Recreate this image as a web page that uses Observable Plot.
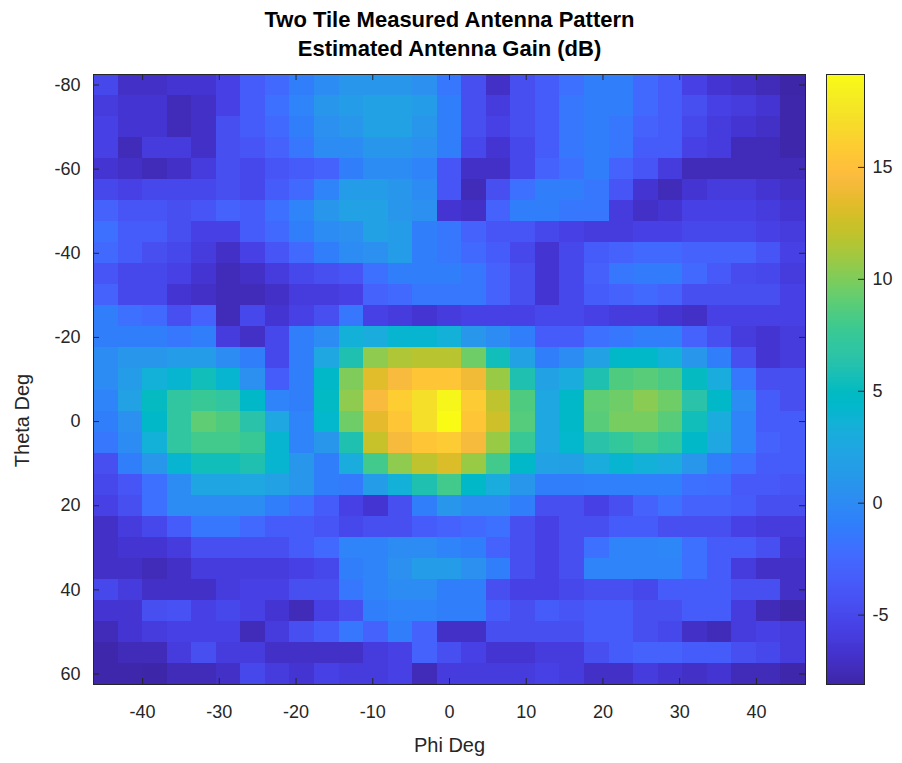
<!DOCTYPE html>
<html><head><meta charset="utf-8">
<script src="https://cdn.jsdelivr.net/npm/d3@7"></script>
<script src="https://cdn.jsdelivr.net/npm/@observablehq/plot@0.6"></script>
<style>
body{margin:0;background:#fff;}
#chart{position:relative;width:902px;height:763px;}
#chart svg{position:absolute;left:0;top:0;}
</style></head><body><div id="chart"></div>
<script>
// ---- data ----
const phi = [-44.8, -41.6, -38.4, -35.2, -32, -28.8, -25.6, -22.4, -19.2, -16, -12.8, -9.6, -6.4, -3.2, 0, 3.2, 6.4, 9.6, 12.8, 16, 19.2, 22.4, 25.6, 28.8, 32, 35.2, 38.4, 41.6, 44.8];
const theta = [-80, -75, -70, -65, -60, -55, -50, -45, -40, -35, -30, -25, -20, -15, -10, -5, 0, 5, 10, 15, 20, 25, 30, 35, 40, 45, 50, 55, 60];
const gain = [
  [-5, -7, -7, -6.5, -6.5, -5.5, -3.5, -2.5, -1, 0,   1, 1, 1, 0.5, -1.5, -4.5, -7, -4.5, -3.5, -2,   -1, -1, -2.5, -3.5, -5.5, -6.5, -7, -7.5, -8.1],
  [-6, -6.5, -6.5, -7.5, -7, -5.5, -3.5, -2, -0.5, 1,   1.5, 2, 2, 1.5, -1, -4.5, -6, -4.5, -3.5, -1.5,   -1, -1, -2.5, -3.5, -4.5, -5.5, -6, -6.5, -8],
  [-5.5, -6.5, -6.5, -7.5, -7, -4.5, -3.5, -2.5, -1, 0.5,   1, 2, 2, 1, -1, -4.5, -5.5, -4.5, -3.5, -1.5,   -1, -1.5, -3, -3.5, -5, -6, -6.5, -7, -8],
  [-5.5, -7.5, -6, -6, -7, -4.5, -4, -3, -1.5, 0,   0, 1, 1, 0.5, -1, -5, -6.5, -5, -3.5, -1.5,   -1, -1.5, -3.5, -3.5, -5.5, -6, -7.5, -7.5, -8],
  [-6.5, -7, -7.5, -7, -6, -4.5, -5, -4, -3.5, -3,   -1, 0, 0, -0.5, -4, -7, -7, -5, -3, -2,   -1, -3, -4, -6, -7.5, -7.5, -7.5, -7.5, -7.5],
  [-5, -5.5, -5, -5, -5, -4.5, -5, -3.5, -2.5, -0.5,   1.5, 1.5, 1, 0, -4, -7.5, -4.5, -2, -1, -1,   -1.5, -4, -6.5, -7.5, -6.5, -6, -6, -6.5, -7],
  [-3, -4, -4, -4.5, -4, -3, -3.5, -2, -0.5, 1,   2, 2, 1, 0.5, -6.5, -7, -3, -1, -1, -1.5,   -1.5, -6, -7, -6.5, -5.5, -5.5, -5.5, -6, -6.5],
  [-2, -3.5, -3.5, -4.5, -5.5, -5.5, -3.5, -2.5, -1, 0,   0.5, 2, 1.5, -1, -1.5, -3, -4, -4, -5, -5.5,   -6, -6, -5.5, -5.5, -5, -5, -5, -5.5, -6],
  [-2.5, -3.5, -4.5, -5, -6, -7, -5.5, -4, -2.5, -1,   0, 0.5, 1.5, -1, -1.5, -2.5, -3.5, -5, -6.5, -5,   -3.5, -3, -2.5, -2.5, -3, -3, -3, -4, -5.5],
  [-4, -5, -5, -5.5, -6.5, -7.5, -7, -6, -5, -4.5,   -4, -2, -1, -1, -1, -1.5, -3, -4.5, -6.5, -5,   -3.2, -1.5, -1.2, -1.2, -2.5, -3.7, -4.7, -5, -6],
  [-3, -5, -5, -6.5, -7, -7.5, -7.5, -7, -6, -6,   -5.5, -3, -2.5, -1.5, -1.5, -1.5, -3, -4.5, -6.5, -5,   -3.5, -3, -2.5, -3, -4.5, -4.5, -4.5, -4.5, -5.5],
  [-1, -2, -2.5, -4.5, -3, -7.5, -5, -6.5, -5.5, -4.5,   -1.5, -5.5, -6, -6.5, -6, -5.5, -5.5, -5.5, -5, -5,   -5.5, -6, -6, -6.5, -7, -5.5, -5.5, -5.5, -5.5],
  [-1, -1, -1, -1.5, -1, -6, -7, -5, -1, 0,   3.5, 3, 4, 4, 3.5, 1, 0, -1, -3.5, -3.5,   -2, -1.5, -1, -1, -3, -4.5, -6, -6.5, -6],
  [0, 1, 1, 1.5, 1.5, 0, -1, -5, -1, 2.5,   6, 10.5, 11.5, 11.8, 11.8, 9.5, 5.5, 2, -1, 0,   2, 4.5, 4.5, 3.5, 1, -1, -4.5, -6.5, -6],
  [0, 1.5, 3.5, 4, 5.5, 4, 0.5, -3.5, -1, 4.5,   10, 13.3, 14.5, 15.5, 15.5, 14, 10.8, 6, 2, 3,   6, 8.5, 8.8, 8.3, 5, 3, -1.5, -4.5, -4.5],
  [-0.5, 2, 5, 7, 7.5, 7, 4.5, -0.5, -1, 4.8,   10.5, 14.5, 16, 17.2, 18.8, 15.8, 12, 8.5, 2.5, 4.5,   9, 9.5, 10.3, 9.5, 6.5, 4.5, 0, -3.5, -4.5],
  [-1, 0.5, 4.5, 7, 9, 8.5, 6.5, 2.5, -0.5, 4.3,   9.5, 13.5, 15.5, 17.2, 19.15, 15.5, 12.5, 8.7, 2.5, 4.5,   8.8, 9.8, 9.8, 8.8, 5.5, 3, -0.5, -3.5, -3.5],
  [-1.5, 0, 3.5, 7, 8, 8, 7.5, 4, -0.5, 1,   6, 12.3, 14.3, 15.5, 15.8, 14.3, 10.8, 7.5, 2.5, 4.3,   6.5, 7.2, 8, 7.2, 4.5, 2.5, -0.5, -3, -3.5],
  [-4.5, -1, 1, 4, 5.5, 5.5, 6, 4, 1, -1,   3, 8, 10.5, 12, 13, 10.8, 8, 4.5, 2, 1.8,   3, 4, 3.5, 3, 1, -1, -2, -3.5, -3.5],
  [-5, -4, -2, 0, 2.3, 2.3, 2.5, 2, 1, -1,   -1.3, 1.5, 3.5, 6, 8, 4.5, 3, 1, -1, -1,   -0.8, -0.8, -0.8, -0.8, -2, -2.2, -3.7, -3.7, -4],
  [-5.5, -4.5, -2, 0, 0, 0, 0, -1, -2, -3.5,   -5.5, -6.5, -4.5, -1, 1, 0, 0, -1, -4.5, -4.5,   -5.5, -4.5, -3, -2, -3, -3, -3.5, -4.5, -4.5],
  [-7, -6, -5, -3.5, -1.5, -1.5, -2.5, -3.5, -3.5, -4,   -5, -4.5, -4.5, -3.5, -3, -2.5, -2, -4.5, -5.5, -4.5,   -4.5, -3.5, -3.5, -4.5, -4.5, -4.5, -5.5, -6, -6],
  [-7, -6.5, -6.5, -6, -4.5, -4.5, -4.5, -4.5, -3.5, -2.5,   -0.5, -0.5, 0, 0, -0.5, -1, -3, -4.5, -5.5, -4.5,   -2, -0.5, -0.5, -0.3, -2, -3.5, -3.5, -4.5, -6.5],
  [-7, -7, -7.5, -7, -6, -6, -6, -6, -5.5, -5,   -1, -0.5, 0.5, 1.5, 1.5, 0.5, -1, -4.5, -5.5, -4.5,   -0.5, -0.5, -0.5, -0.5, -2, -3.5, -6, -7, -7],
  [-5, -6, -7, -7, -7, -6, -5.5, -5.5, -4.5, -4.5,   -1.5, -0.5, 0, 0, -1, -1, -4.5, -5.5, -5.5, -5,   -4.5, -4.5, -5, -3.5, -3.5, -3.5, -4.5, -4.5, -7],
  [-6.5, -6.5, -4.5, -4.3, -5.5, -5, -5.5, -6.5, -7.5, -5.5,   -4.5, -1, -0.5, -0.5, -1, -1, -3.5, -4.5, -3.5, -4,   -3.5, -3.5, -4.5, -4.5, -3.5, -3.5, -6, -7.5, -8],
  [-7.5, -6.5, -6, -5.5, -5.5, -5.5, -7.5, -6, -4.5, -3.5,   -1.5, -3, -1, -3, -7, -7, -4.5, -4.5, -4.5, -4.5,   -3.5, -3.5, -4.5, -5, -7, -7.5, -6, -5.5, -6],
  [-8, -7.5, -7.5, -6, -4.5, -6, -6, -7, -7, -7,   -7, -6, -5.5, -3, -4.5, -5.5, -6.5, -6.5, -6, -6,   -4.5, -3.5, -3, -3, -3.5, -3.5, -4.5, -5, -6],
  [-8, -8, -8.1, -7.5, -7.5, -7, -5, -6, -6.5, -5.5,   -6, -6, -5.5, -7.5, -6, -6, -6, -6, -5.5, -6,   -7, -7, -6, -6.5, -7, -6.5, -7.5, -7.5, -8]
];
const xTicks = [-40, -30, -20, -10, 0, 10, 20, 30, 40];
const yTicks = [-80, -60, -40, -20, 0, 20, 40, 60];
const cbTicks = [-5, 0, 5, 10, 15];
const gainDomain = [-8.1, 19.15];
const titleLines = ["Two Tile Measured Antenna Pattern", "Estimated Antenna Gain (dB)"];
const xLabel = "Phi Deg";
const yLabel = "Theta Deg";
const parula = ["#3e26a8","#402ab4","#422ec0","#4332cb","#4537d5","#463cde","#4741e5","#4747eb","#484df0","#4852f4","#4758f8","#465efb","#4563fd","#4269fe","#3e6fff","#3875fe","#327cfc","#2f81fa","#2e87f7","#2d8cf3","#2b91ef","#2796eb","#259be8","#23a0e5","#20a5e3","#1ca9df","#18addb","#12b1d6","#08b5d0","#01b8ca","#02bac3","#0bbdbd","#19bfb6","#24c1ae","#2cc4a7","#31c69f","#37c897","#3fca8e","#4acb84","#57cc7a","#64cd6f","#72cd64","#81cc59","#8fcb4e","#9dc943","#abc739","#b9c431","#c5c22a","#d1bf27","#dcbd29","#e6bb2d","#f0ba36","#f8ba3d","#febe3c","#fec338","#fec934","#fccf30","#fad62d","#f7dc2a","#f5e327","#f5e924","#f6ef20","#f7f51b","#f9fb15"];

// ---- layout ----
const W = 902, H = 763;
const mL = 93, mR = 97, mT = 74, mB = 79;
const frameW = W - mL - mR, frameH = H - mT - mB;
const tickLen = 6;
const ink = "#262626";
const font = "'Liberation Sans', Arial, Helvetica, sans-serif";
const phiStep = phi[1] - phi[0], thetaStep = theta[1] - theta[0];
const fmt = d => String(d);

const cells = [];
theta.forEach((t, i) => phi.forEach((p, j) => cells.push({phi: p, theta: t, g: gain[i][j]})));

const colorOpts = {type: "linear", domain: gainDomain, interpolate: d3.piecewise(d3.interpolateRgb, parula)};

const main = Plot.plot({
  width: W, height: H,
  marginLeft: mL, marginRight: mR, marginTop: mT, marginBottom: mB,
  style: {fontFamily: font, fontSize: "18px", color: ink, background: "transparent", overflow: "visible"},
  x: {domain: [phi[0] - phiStep / 2, phi[phi.length - 1] + phiStep / 2], ticks: xTicks, tickFormat: fmt, tickSize: 0, tickPadding: 21, label: null},
  y: {domain: [theta[0] - thetaStep / 2, theta[theta.length - 1] + thetaStep / 2], reverse: true, ticks: yTicks, tickFormat: fmt, tickSize: 0, tickPadding: 13, label: null},
  color: colorOpts,
  marks: [
    Plot.rect(cells, {
      x1: d => d.phi - phiStep / 2, x2: d => d.phi + phiStep / 2,
      y1: d => d.theta - thetaStep / 2, y2: d => d.theta + thetaStep / 2,
      fill: "g", shapeRendering: "crispEdges"
    }),
    Plot.tickX(xTicks, {x: d => d, insetTop: frameH - tickLen, stroke: ink}),
    Plot.tickX(xTicks, {x: d => d, insetBottom: frameH - tickLen, stroke: ink}),
    Plot.tickY(yTicks, {y: d => d, insetRight: frameW - tickLen, stroke: ink}),
    Plot.tickY(yTicks, {y: d => d, insetLeft: frameW - tickLen, stroke: ink}),
    Plot.frame({stroke: ink}),
    Plot.text([xLabel], {frameAnchor: "bottom", lineAnchor: "middle", dy: 61, fontSize: 20, fill: ink}),
    Plot.text([yLabel], {frameAnchor: "left", textAnchor: "middle", lineAnchor: "middle", dx: -71, dy: 41, rotate: -90, fontSize: 20, fill: ink}),
    Plot.text([titleLines[0]], {frameAnchor: "top", lineAnchor: "middle", dy: -55, fontSize: 22, fontWeight: "bold", fill: "#000"}),
    Plot.text([titleLines[1]], {frameAnchor: "top", lineAnchor: "middle", dy: -26, fontSize: 22, fontWeight: "bold", fill: "#000"})
  ]
});

// colorbar
const nb = 300;
const bands = d3.range(nb).map(i => {
  const a = gainDomain[0] + (gainDomain[1] - gainDomain[0]) * i / nb;
  const b = gainDomain[0] + (gainDomain[1] - gainDomain[0]) * (i + 1) / nb;
  return {y1: a, y2: b, v: (a + b) / 2};
});
const cbL = 826, cbR = 864;
const cb = Plot.plot({
  width: W, height: H,
  marginLeft: cbL, marginRight: W - cbR, marginTop: mT, marginBottom: mB,
  style: {fontFamily: font, fontSize: "18px", color: ink, background: "transparent", overflow: "visible"},
  x: {domain: [0, 1], axis: null},
  y: {domain: gainDomain, ticks: cbTicks, tickFormat: fmt, axis: "right", tickSize: 0, tickPadding: 8, label: null},
  color: colorOpts,
  marks: [
    Plot.rect(bands, {x1: 0, x2: 1, y1: "y1", y2: "y2", fill: "v", shapeRendering: "crispEdges"}),
    Plot.tickY(cbTicks, {y: d => d, insetLeft: (cbR - cbL) - tickLen, stroke: ink}),
    Plot.frame({stroke: ink})
  ]
});

const host = document.getElementById("chart");
host.appendChild(main);
host.appendChild(cb);
</script>
</body></html>
